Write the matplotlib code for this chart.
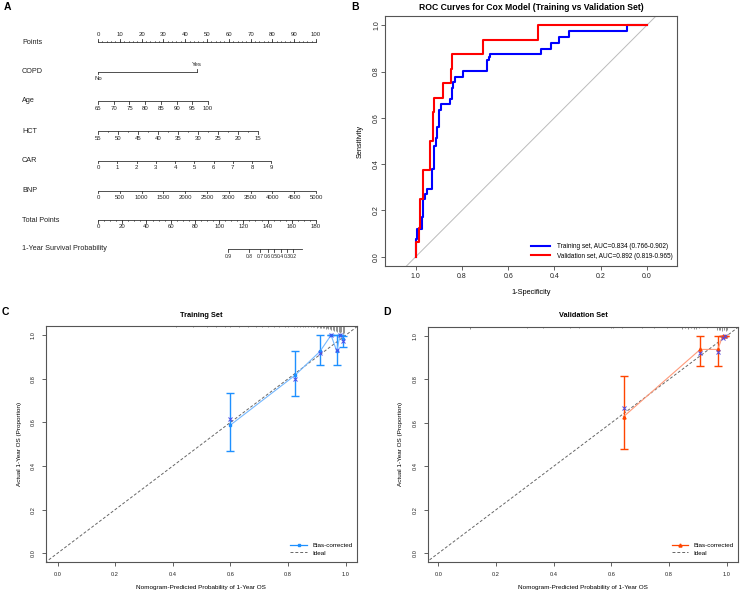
import numpy as np
import matplotlib
matplotlib.use('Agg')
import matplotlib.pyplot as plt
from matplotlib.lines import Line2D

plt.rcParams['font.family'] = ['Liberation Sans', 'DejaVu Sans']

# ---------------- data ----------------
# Nomogram (Panel A)
points_ticks = list(range(0, 101, 10))
copd_levels = ['No', 'Yes']
copd_points = [0, 45.3]
age_ticks = [65, 70, 75, 80, 85, 90, 95, 100]
age_range = (65, 100)
age_points_range = (0, 50.5)
hct_ticks = [55, 50, 45, 40, 35, 30, 25, 20, 15]
hct_range = (55, 15)
hct_points_range = (0, 73.4)
car_ticks = [0, 1, 2, 3, 4, 5, 6, 7, 8, 9]
car_range = (0, 9)
car_points_range = (0, 79.5)
bnp_ticks = [0, 500, 1000, 1500, 2000, 2500, 3000, 3500, 4000, 4500, 5000]
bnp_range = (0, 5000)
bnp_points_range = (0, 100)
total_ticks = [0, 20, 40, 60, 80, 100, 120, 140, 160, 180]
total_range = (0, 180)
surv_labels = ['0.9', '0.8', '0.7', '0.6', '0.5', '0.4', '0.3', '0.2']
surv_total_points = [107.2, 124.5, 134.0, 140.0, 145.5, 150.9, 156.0, 161.0]
surv_line_total = (107.2, 168.5)

# ROC (Panel B): step corners (1-specificity, sensitivity)
fpr_train = [0, 0, 0.007, 0.026, 0.03, 0.033, 0.041, 0.048, 0.072, 0.079, 0.081,
             0.086, 0.091, 0.0996, 0.108, 0.1485, 0.156, 0.158, 0.163, 0.17, 0.203,
             0.31, 0.316, 0.322, 0.541, 0.586, 0.622, 0.664, 0.913, 1.0]
tpr_train = [0, 0.077, 0.122, 0.17, 0.194, 0.25, 0.27, 0.291, 0.38, 0.403, 0.48,
             0.511, 0.561, 0.633, 0.658, 0.68, 0.704, 0.73, 0.755, 0.778, 0.803,
             0.85, 0.862, 0.875, 0.899, 0.924, 0.948, 0.974, 1.0, 1.0]
fpr_valid = [0, 0, 0.016, 0.019, 0.033, 0.062, 0.075, 0.079, 0.117, 0.151, 0.158,
             0.29, 0.531, 1.0]
tpr_valid = [0, 0.0625, 0.125, 0.25, 0.375, 0.5, 0.625, 0.6875, 0.75, 0.8125, 0.875,
             0.9375, 1.0, 1.0]
roc_labels = ['Training set, AUC=0.834 (0.766-0.902)',
              'Validation set, AUC=0.892 (0.819-0.965)']

# Calibration (Panel C: training)
pred_tr = [0.598, 0.824, 0.911, 0.949, 0.969, 0.980, 0.990]
obs_tr = [0.586, 0.816, 0.926, 1.0, 0.926, 1.0, 0.983]
lo_tr = [0.467, 0.720, 0.861, 1.0, 0.861, 1.0, 0.947]
hi_tr = [0.735, 0.926, 1.0, 1.0, 1.0, 1.0, 0.997]
bc_tr = [0.617, 0.797, 0.920, 1.0, 0.930, 1.0, 0.975]
rug_tr_x = [0.41, 0.47, 0.52, 0.55, 0.58, 0.60, 0.63, 0.66, 0.69, 0.71, 0.73, 0.75,
            0.77, 0.79, 0.80, 0.82, 0.83, 0.84, 0.85, 0.86, 0.87, 0.88, 0.885, 0.89,
            0.90, 0.905, 0.91, 0.915, 0.92, 0.925, 0.93, 0.935, 0.94, 0.945, 0.95,
            0.955, 0.96, 0.965, 0.97, 0.975, 0.98, 0.985, 0.99, 0.995]
rug_tr_n = [1, 1, 1, 1, 1, 1, 1, 1, 1, 1, 1, 1, 1, 1, 1, 1, 1, 1, 1, 1, 1, 1, 1, 1,
            2, 1, 2, 2, 2, 2, 3, 2, 3, 3, 4, 4, 5, 5, 6, 6, 7, 6, 8, 7]

# Calibration (Panel D: validation)
pred_va = [0.642, 0.908, 0.969, 0.986, 0.994]
obs_va = [0.628, 0.9375, 0.9375, 1.0, 1.0]
lo_va = [0.479, 0.861, 0.861, 1.0, 1.0]
hi_va = [0.816, 1.0, 1.0, 1.0, 1.0]
bc_va = [0.666, 0.919, 0.926, 0.990, 1.0]
rug_va_x = [0.11, 0.307, 0.362, 0.456, 0.489, 0.598, 0.606, 0.636, 0.705, 0.746,
            0.792, 0.845, 0.855, 0.865, 0.875, 0.885, 0.895, 0.905, 0.93, 0.966,
            0.972, 0.978, 0.984, 0.99, 0.996, 1.0]
rug_va_n = [2, 1, 1, 1, 1, 1, 1, 1, 1, 1, 1, 2, 1, 2, 1, 2, 2, 1, 1, 3, 3, 3, 4, 3,
            4, 3]

# ---------------- layout helpers ----------------
W, H = 740, 594
fig = plt.figure(figsize=(W / 100, H / 100), dpi=100)


def box(x0, y0, x1, y1):
    return [x0 / W, 1 - y1 / H, (x1 - x0) / W, (y1 - y0) / H]


def fx(x):
    return x / W


def fy(y):
    return 1 - y / H


DARK = '#222222'

# ---------------- Panel A: nomogram ----------------
axA = fig.add_axes(box(98, 20, 316, 270))
axA.set_xlim(0, 100)
axA.set_ylim(270, 20)
axA.axis('off')
nlw = 0.6
ncol = '#333333'
lab_fs = 5.2
tick_fs = 4.3


def lin(v, vr, pr):
    return pr[0] + (np.asarray(v, float) - vr[0]) / (vr[1] - vr[0]) * (pr[1] - pr[0])


def draw_scale(y, ticks, vr, pr, labels=None, below=True, minor=None):
    xs = lin(ticks, vr, pr)
    ends = lin([vr[0], vr[1]], vr, pr)
    axA.plot(ends, [y, y], color=ncol, lw=nlw, clip_on=False, solid_capstyle='butt')
    d = 2.6 if below else -2.6
    for xv in xs:
        axA.plot([xv, xv], [y, y + d], color=ncol, lw=nlw, clip_on=False)
    if minor is not None:
        for xv in lin(minor, vr, pr):
            axA.plot([xv, xv], [y, y + d * 0.55], color=ncol, lw=0.45, clip_on=False)
    labels = labels if labels is not None else [str(t) for t in ticks]
    for xv, lb in zip(xs, labels):
        axA.text(xv, y + (7 if below else -7), lb, fontsize=tick_fs, ha='center',
                 va='center', color=DARK)


row_y = {'Points': 42, 'COPD': 71.5, 'Age': 101, 'HCT': 131, 'CAR': 160.5,
         'BNP': 190.5, 'Total Points': 220, '1-Year Survival Probability': 249}
for name, yv in row_y.items():
    fig.text(fx(22), fy(yv), name, fontsize=lab_fs, ha='left', va='center', color=DARK)

draw_scale(row_y['Points'], points_ticks, (0, 100), (0, 100), below=False,
           minor=[v for v in np.arange(0, 100.1, 2)])
# COPD
yc = row_y['COPD']
axA.plot(copd_points, [yc, yc], color=ncol, lw=nlw, clip_on=False)
axA.plot([copd_points[0]] * 2, [yc, yc + 2.6], color=ncol, lw=nlw, clip_on=False)
axA.plot([copd_points[1]] * 2, [yc, yc - 2.6], color=ncol, lw=nlw, clip_on=False)
axA.text(copd_points[0], yc + 7.5, copd_levels[0], fontsize=tick_fs, ha='center', va='center', color=DARK)
axA.text(copd_points[1], yc - 7.5, copd_levels[1], fontsize=tick_fs, ha='center', va='center', color=DARK)

draw_scale(row_y['Age'], age_ticks, age_range, age_points_range)
draw_scale(row_y['HCT'], hct_ticks, hct_range, hct_points_range,
           minor=[v - 2.5 for v in hct_ticks[:-1]])
draw_scale(row_y['CAR'], car_ticks, car_range, car_points_range)
draw_scale(row_y['BNP'], bnp_ticks, bnp_range, bnp_points_range)
draw_scale(row_y['Total Points'], total_ticks, total_range, (0, 100),
           minor=list(range(0, 181, 5)))
# survival
ys = row_y['1-Year Survival Probability']
sx = lin(list(surv_line_total), total_range, (0, 100))
axA.plot(sx, [ys, ys], color=ncol, lw=nlw, clip_on=False)
for tp, lb in zip(surv_total_points, surv_labels):
    xv = lin(tp, total_range, (0, 100))
    axA.plot([xv, xv], [ys, ys + 2.6], color=ncol, lw=nlw, clip_on=False)
    axA.text(xv, ys + 7.5, lb, fontsize=3.6, ha='center', va='center', color=DARK)

# ---------------- Panel B: ROC ----------------
axB = fig.add_axes(box(385, 16, 677.3, 266))
axB.set_xlim(1.133, -0.132)
axB.set_ylim(-0.04, 1.04)
axB.plot([1.3, -0.3], [-0.3, 1.3], color='#BBBBBB', lw=0.7)
spec_tr = 1 - np.array(fpr_train)
spec_va = 1 - np.array(fpr_valid)
axB.plot(spec_tr, tpr_train, color='#0000FF', lw=1.5, drawstyle='steps-post',
         label=roc_labels[0])
axB.plot(spec_va, tpr_valid, color='#FF0000', lw=1.5, drawstyle='steps-post',
         label=roc_labels[1])
axB.set_xticks([1.0, 0.8, 0.6, 0.4, 0.2, 0.0])
axB.set_xticklabels(['1.0', '0.8', '0.6', '0.4', '0.2', '0.0'])
axB.set_yticks([0.0, 0.2, 0.4, 0.6, 0.8, 1.0])
axB.set_yticklabels(['0.0', '0.2', '0.4', '0.6', '0.8', '1.0'], rotation=90, va='center')
axB.tick_params(labelsize=5, length=3, width=0.5, pad=2, colors=DARK)
axB.tick_params(axis='y', pad=0.5)
for s in axB.spines.values():
    s.set_linewidth(0.8)
    s.set_color('#555555')
leg = axB.legend(loc='lower right', bbox_to_anchor=(fx(676), fy(263)),
                 bbox_transform=fig.transFigure, frameon=False, fontsize=4.7,
                 handlelength=3.0, handletextpad=1.0, labelspacing=0.45, borderpad=0)
fig.text(fx(531), fy(7.5), 'ROC Curves for Cox Model (Training vs Validation Set)',
         fontsize=6.2, fontweight='bold', ha='center', va='center')
fig.text(fx(360), fy(141), 'Sensitivity', fontsize=5.3, rotation=90, ha='center', va='center')
fig.text(fx(531.5), fy(293), '1-Specificity', fontsize=5.3, ha='center', va='center')


# ---------------- Panels C & D: calibration ----------------
def calib(rect, xlim, title, title_x, ylab_x, pred, obs, lo, hi, bc, rugx, rugn,
          ecol, lcol, mk, ms):
    ax = fig.add_axes(box(*rect))
    ax.set_xlim(*xlim)
    ax.set_ylim(-0.039, 1.042)
    ax.plot([-0.2, 1.2], [-0.2, 1.2], color='#666666', lw=0.7, dashes=(3, 2))
    top = ax.get_ylim()[1]
    unit = 0.0047
    ax.vlines(rugx, top - np.array(rugn) * unit, top, color='#555555', lw=0.45)
    pred = np.array(pred)
    obs = np.array(obs)
    ax.errorbar(pred, obs, yerr=[obs - np.array(lo), np.array(hi) - obs], fmt='none',
                ecolor=ecol, elinewidth=1.0, capsize=2.6, capthick=1.0)
    ax.plot(pred, obs, color=lcol, lw=0.8)
    ax.plot(pred, obs, mk, color=ecol, ms=ms, ls='none')
    ax.plot(pred, bc, 'x', color='#4B4BE8', ms=2.6, mew=0.7, ls='none')
    ticks = [0.0, 0.2, 0.4, 0.6, 0.8, 1.0]
    ax.set_xticks(ticks)
    ax.set_xticklabels(['0.0', '0.2', '0.4', '0.6', '0.8', '1.0'])
    ax.set_yticks(ticks)
    ax.set_yticklabels(['0.0', '0.2', '0.4', '0.6', '0.8', '1.0'], rotation=90, va='center')
    ax.tick_params(labelsize=4.1, length=3, width=0.5, pad=4.5, colors=DARK)
    for s in ax.spines.values():
        s.set_linewidth(0.8)
        s.set_color('#555555')
    handles = [Line2D([], [], color=ecol, lw=0.9, marker=mk, ms=ms),
               Line2D([], [], color='#666666', lw=0.7, dashes=(3, 2))]
    ax.legend(handles, ['Bias-corrected', 'Ideal'], loc='lower right',
              bbox_to_anchor=(fx(rect[2] - 1), fy(rect[3] - 3)),
              bbox_transform=fig.transFigure, frameon=False, fontsize=4.5,
              handlelength=2.6, handletextpad=0.9, labelspacing=0.35, borderpad=0)
    cx = (rect[0] + rect[2]) / 2
    fig.text(fx(title_x), fy(315.7), title, fontsize=5.3, fontweight='bold',
             ha='center', va='center')
    fig.text(fx(ylab_x), fy((rect[1] + rect[3]) / 2), 'Actual 1-Year OS (Proportion)',
             fontsize=4.6, rotation=90, ha='center', va='center')
    fig.text(fx(cx), fy(588), 'Nomogram-Predicted Probability of 1-Year OS',
             fontsize=4.6, ha='center', va='center')
    return ax


calib((46, 326, 356.7, 561.7), (-0.04, 1.038), 'Training Set', 201.3, 20,
      pred_tr, obs_tr, lo_tr, hi_tr, bc_tr, rug_tr_x, rug_tr_n,
      '#1E90FF', '#74B8FF', 's', 1.8)
calib((427.7, 326.7, 738, 561.7), (-0.037, 1.039), 'Validation Set', 583, 400.5,
      pred_va, obs_va, lo_va, hi_va, bc_va, rug_va_x, rug_va_n,
      '#FF4500', '#FF9A7A', '^', 2.2)

# panel letters
for lt, (x, y) in {'A': (7, 7), 'B': (355, 7), 'C': (5.5, 311.7), 'D': (387, 311.7)}.items():
    fig.text(fx(x), fy(y), lt, fontsize=7.5, fontweight='bold', ha='center', va='center')

fig.savefig('out.png', dpi=100)
